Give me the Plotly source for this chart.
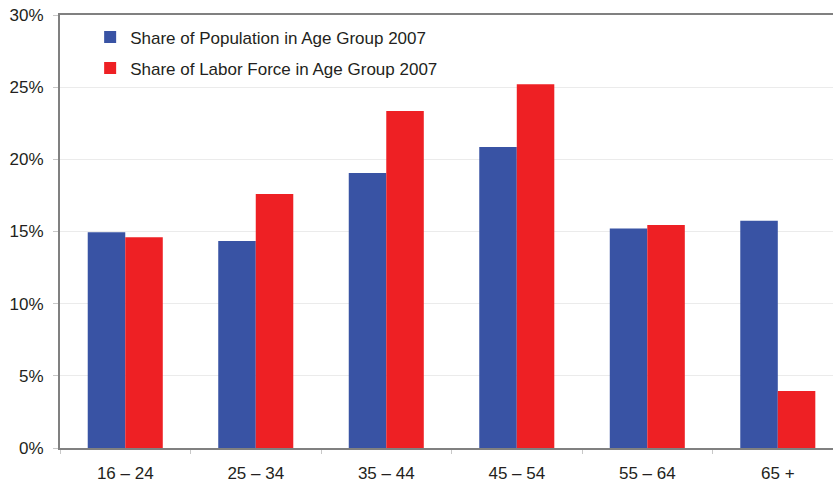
import plotly.graph_objects as go

categories = ["16 – 24", "25 – 34", "35 – 44", "45 – 54", "55 – 64", "65 +"]
population_share = [14.95, 14.35, 19.05, 20.85, 15.2, 15.75]
labor_force_share = [14.6, 17.6, 23.35, 25.2, 15.45, 3.95]
series_names = ["Share of Population in Age Group 2007", "Share of Labor Force in Age Group 2007"]
y_ticks = [0, 5, 10, 15, 20, 25, 30]
y_tick_labels = ["0%", "5%", "10%", "15%", "20%", "25%", "30%"]

BLUE = "#3953A4"
RED = "#EE2024"
AXIS = "#808080"
FONT = "Liberation Sans, Arial, sans-serif"

fig = go.Figure()
fig.add_trace(go.Bar(x=categories, y=population_share, name=series_names[0],
                     marker=dict(color=BLUE, line=dict(width=0)), legendgroup="a"))
fig.add_trace(go.Bar(x=categories, y=labor_force_share, name=series_names[1],
                     marker=dict(color=RED, line=dict(width=0)), legendgroup="b"))

fig.update_layout(
    width=833, height=479,
    margin=dict(l=60, r=0, t=15, b=31),
    paper_bgcolor="white", plot_bgcolor="white",
    barmode="group", bargap=0.425, bargroupgap=0,
    font=dict(family=FONT, size=17, color="#231F20"),
    showlegend=True,
    legend=dict(x=0.039, y=0.99, xanchor="left", yanchor="top",
                bgcolor="rgba(0,0,0,0)", borderwidth=0,
                font=dict(size=17), tracegroupgap=6, traceorder="grouped"),
    xaxis=dict(range=[-0.5, 5.423], showline=True, linecolor=AXIS, linewidth=2,
               mirror=True, ticks="outside", ticklen=4, tickcolor="#C8C8C8",
               tickson="boundaries", showgrid=False, fixedrange=True,
               ticklabelstandoff=9, automargin=False),
    yaxis=dict(range=[0, 30], tickmode="array", tickvals=y_ticks, ticktext=y_tick_labels,
               showline=True, linecolor=AXIS, linewidth=2,
               ticks="outside", ticklen=5, tickcolor="#C8C8C8",
               showgrid=True, gridcolor="#EBEBEB", gridwidth=1,
               zeroline=False, ticklabelstandoff=6, fixedrange=True,
               automargin=False),
)

fig.write_html("out.html")
